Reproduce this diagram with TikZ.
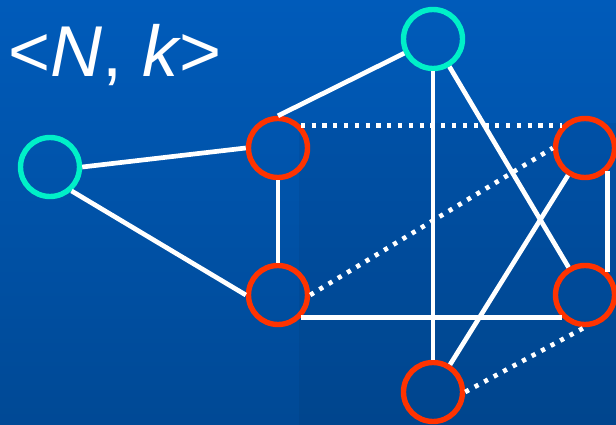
\documentclass[tikz,border=0pt]{standalone}
\usepackage{fontspec}
\setmainfont{Liberation Sans}
\definecolor{bgtop}{RGB}{0,91,186}
\definecolor{bgbot}{RGB}{0,73,149}
\definecolor{hubcyan}{RGB}{0,240,200}
\definecolor{peerred}{RGB}{255,51,0}
\begin{document}
\begin{tikzpicture}[x=1pt,y=-1pt,
  vertex/.style={circle,draw,line width=5.4pt,minimum size=59pt,inner sep=0pt},
  hub/.style={vertex,draw=hubcyan},
  peer/.style={vertex,draw=peerred},
  link/.style={draw=white,line width=4.7pt},
  weak/.style={link,dash pattern=on 4.2pt off 6.6pt}]
  \useasboundingbox (0,0) rectangle (616,425);
  % backdrop
  \shade[top color=bgtop,bottom color=bgbot] (0,0) rectangle (616,425);
  \fill[black,opacity=0.05] (299,123) rectangle (616,425);

  % label
  \node[anchor=base west,text=white,inner sep=0pt,
        font=\fontsize{72}{86}\selectfont] (title) at (8,77)
        {<\textit{N}, \textit{k}\kern-2pt>};

  % vertices
  \node[hub]  (cl) at (50,167) {};
  \node[hub]  (ct) at (433,39) {};
  \node[peer] (A)  at (278,148) {};
  \node[peer] (B)  at (278,295) {};
  \node[peer] (C)  at (585,148) {};
  \node[peer] (D)  at (585,295) {};
  \node[peer] (E)  at (433,392) {};

  % solid links
  \draw[link] (cl.east) -- (A.west);
  \draw[link] (cl.-48) -- (B.west);
  \draw[link] (A.south) -- (B.north);
  \draw[link] (A.north) -- (ct);
  \draw[link] (B.south east) -- (D.south west);
  \draw[link] (C.south east) -- (D.north east);
  \draw[link] (ct) -- (E);
  \draw[link] (ct) -- (D);
  \draw[link] (C) -- (E);

  % dotted links
  \draw[weak] (A.north east) -- (C.north west);
  \draw[weak] (B.east) -- (C.west);
  \draw[weak] (E.east) -- (D.south);
\end{tikzpicture}
\end{document}
